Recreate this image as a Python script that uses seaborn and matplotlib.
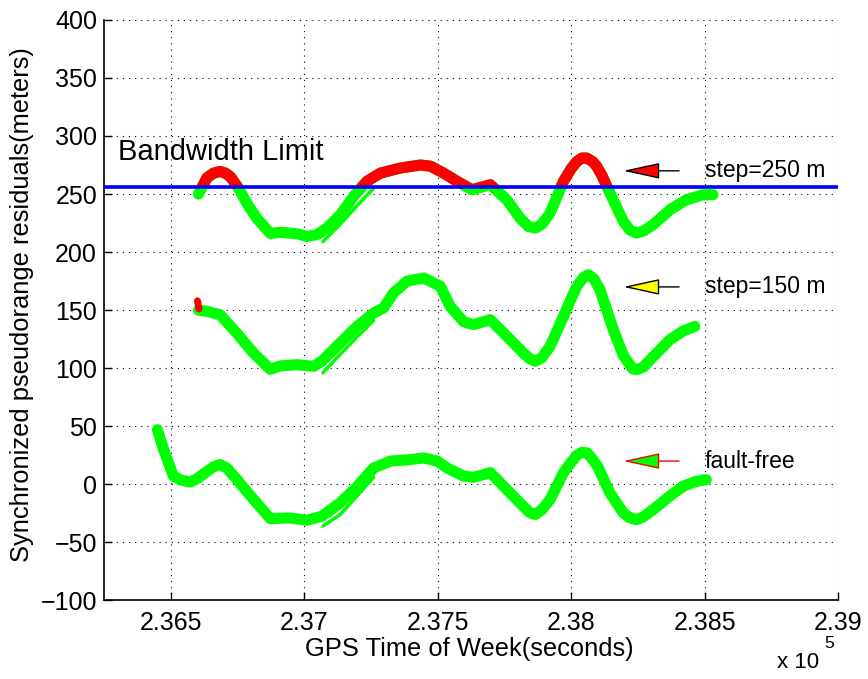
import matplotlib
matplotlib.use("Agg")
import matplotlib.pyplot as plt
import pandas as pd
import seaborn as sns
from matplotlib.patches import Rectangle
from matplotlib.ticker import FuncFormatter, MultipleLocator

# ---------------------------------------------------------------- data
# GPS time of week (s) and synchronized pseudorange residual (m)
t_free = [236450, 236473, 236510, 236540, 236573, 236600, 236629, 236660,
          236685, 236710, 236748, 236810, 236873, 236948, 237010, 237066,
          237135, 237198, 237260, 237323, 237385, 237448, 237498, 237535,
          237597, 237634, 237697, 237759, 237821, 237845, 237865, 237890,
          237921, 237971, 238000, 238021, 238040, 238060, 238080, 238100,
          238145, 238195, 238220, 238245, 238270, 238307, 238370, 238419,
          238469, 238506]
v_free = [47, 30, 7, 3.5, 2, 5, 10, 15,
          17, 14, 4, -13, -29.6, -29, -31, -27.5,
          -16, -2, 14, 20, 21, 22.7, 20, 14,
          7, 6, 10, -4.6, -19, -24.5, -26, -22,
          -13, 10, 19, 25, 27.5, 27, 21.5, 15,
          -7.5, -24.7, -29, -30.4, -28, -21.8, -10, -1.7,
          2.6, 4]

t_150 = [236604, 236635, 236685, 236748, 236810, 236873, 236910, 236973,
         237035, 237066, 237135, 237198, 237260, 237298, 237335, 237385,
         237448, 237510, 237547, 237597, 237634, 237697, 237759, 237821,
         237845, 237865, 237890, 237921, 237971, 238000, 238021, 238045,
         238064, 238085, 238108, 238130, 238158, 238195, 238230, 238245,
         238270, 238307, 238370, 238419, 238463]
v_150 = [150, 149, 146, 130, 113, 99, 102, 103,
         101.6, 106, 121.7, 136, 147.5, 152, 165, 175,
         177.7, 170.5, 153, 140, 137.5, 141.8, 127.5, 113,
         108, 106, 109, 119, 144.7, 160, 170.5, 178,
         180.5, 177, 167.6, 152, 133, 111, 99.5, 98.7,
         101, 110, 124.6, 132, 136]

t_250 = [236604, 236635, 236660, 236685, 236705, 236723, 236754, 236785,
         236823, 236873, 236910, 236973, 237010, 237048, 237085, 237135,
         237185, 237235, 237285, 237360, 237435, 237473, 237522, 237572,
         237628, 237697, 237759, 237809, 237840, 237865, 237890, 237921,
         237971, 238000, 238021, 238040, 238058, 238080, 238095, 238115,
         238139, 238195, 238220, 238245, 238270, 238307, 238370, 238431,
         238494, 238531]
v_250 = [250, 263.8, 268, 269.5, 268, 265, 255, 242,
         229, 216, 217, 215.8, 213.5, 215, 220.7, 232,
         248, 261, 268, 272.4, 275, 274, 268, 261,
         253.7, 258, 245, 229, 222, 220.7, 224, 233.6,
         261, 272, 278, 281, 281, 278, 274, 266,
         253.7, 226.5, 219, 216.4, 218, 223.6, 236.5, 245,
         249.4, 249.4]

# satellite tracked from a later epoch (one per scenario)
t_late = [237070, 237135, 237198, 237260]
v_late_free = [-36, -26, -10, 6]
v_late_150 = [96, 112, 127, 141]
v_late_250 = [209, 224, 240, 255]

# first epochs of the 150 m scenario flagged by the detector
t_flag150 = [236600, 236606]
v_flag150 = [158, 151]

bandwidth_limit = 256
arrow_levels = [270, 170, 20]
arrow_labels = ["step=250 m", "step=150 m", "fault-free"]
arrow_fills = ["#ff0000", "#ffff00", "#00ff00"]
arrow_edges = ["black", "black", "#ff0000"]

# ---------------------------------------------------------------- style
GREEN, RED, BLUE = "#00ff00", "#ff0000", "#0000ff"
XMIN, XMAX, YMIN, YMAX = 236250, 239000, -100, 400

sns.set_style("white")
plt.rcParams["font.family"] = ["Liberation Sans", "DejaVu Sans"]
plt.rcParams.update({"text.color": "black", "axes.labelcolor": "black",
                     "xtick.color": "black", "ytick.color": "black"})

fig = plt.figure(figsize=(8.68, 6.79), dpi=100)
ax = fig.add_axes([0.1198, 0.1158, 0.8459, 0.8549])


def draw_track(t, v, lw):
    """Green residual track, red wherever it exceeds the bandwidth limit."""
    df = pd.DataFrame({"t": t, "v": v})
    for colour, z in ((GREEN, 2), (RED, 3)):
        sns.lineplot(data=df, x="t", y="v", ax=ax, color=colour, linewidth=lw,
                     sort=False, estimator=None, zorder=z,
                     solid_capstyle="round", solid_joinstyle="round")
    above = Rectangle((XMIN, bandwidth_limit), XMAX - XMIN,
                      YMAX - bandwidth_limit, transform=ax.transData)
    ax.lines[-1].set_clip_path(above)


draw_track(t_free, v_free, 8.0)
draw_track(t_150, v_150, 8.0)
draw_track(t_250, v_250, 8.0)
for v_late in (v_late_free, v_late_150, v_late_250):
    draw_track(t_late, v_late, 2.5)

sns.lineplot(x=t_flag150, y=v_flag150, ax=ax, color=RED, linewidth=5,
             sort=False, estimator=None, zorder=4)

ax.axhline(bandwidth_limit, color=BLUE, lw=2.6, zorder=5)
ax.text(236303, 286, "Bandwidth Limit", fontsize=21, va="center", ha="left",
        zorder=6)

for level, label, fill, edge in zip(arrow_levels, arrow_labels,
                                    arrow_fills, arrow_edges):
    ax.annotate("", xy=(238195, level), xytext=(238404, level),
                arrowprops=dict(arrowstyle="-|>,head_length=2.3,head_width=0.5",
                                fc=fill, ec=edge, lw=1.0, shrinkA=0, shrinkB=0,
                                mutation_scale=10),
                zorder=6)
    ax.text(238500, level, label, fontsize=16.5, va="center", ha="left",
            zorder=6)

# ---------------------------------------------------------------- axes
ax.set_xlim(XMIN, XMAX)
ax.set_ylim(YMIN, YMAX)
ax.xaxis.set_major_locator(MultipleLocator(500))
ax.yaxis.set_major_locator(MultipleLocator(50))
ax.xaxis.set_major_formatter(FuncFormatter(lambda v, _: f"{v / 1e5:g}"))
ax.set_xlabel("")
ax.set_ylabel("")

ax.set_axisbelow(True)
ax.grid(True, color="black", linestyle=(0, (1, 4.5)), linewidth=0.8)
for side in ("top", "right"):
    ax.spines[side].set_visible(False)
for side in ("left", "bottom"):
    ax.spines[side].set_color("black")
    ax.spines[side].set_linewidth(1.2)
ax.tick_params(direction="in", length=6, width=1, labelsize=18,
               color="black", labelcolor="black",
               top=False, right=False, bottom=True, left=True)
ax.tick_params(axis="x", pad=8)
ax.tick_params(axis="y", pad=5)

fig.text(469 / 868, 1 - 656 / 679, "GPS Time of Week(seconds)",
         fontsize=18.4, ha="center", va="baseline")
fig.text(22 / 868, 1 - 305 / 679, "Synchronized pseudorange residuals(meters)",
         fontsize=18.4, ha="center", va="center", rotation=90)
fig.text(798 / 868, 1 - 663 / 679, "x 10", fontsize=16, ha="center", va="center")
fig.text(829 / 868, 1 - 643 / 679, "5", fontsize=12.5, ha="center", va="center")

fig.savefig("out.png", dpi=100, facecolor="white")
